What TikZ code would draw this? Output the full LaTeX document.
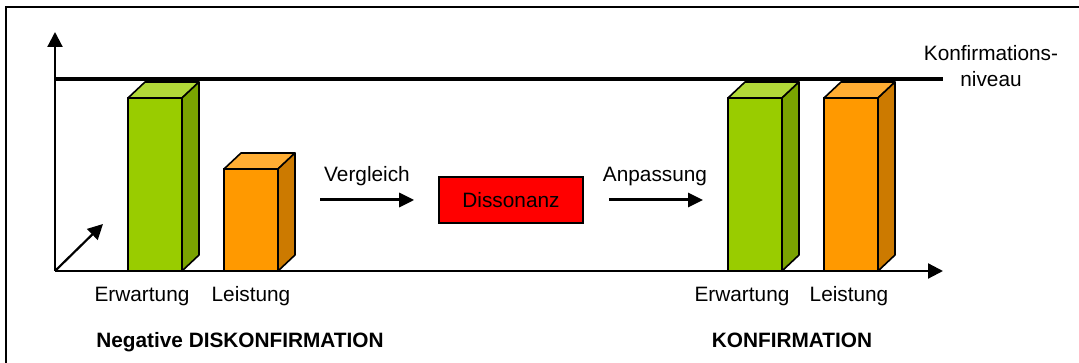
\documentclass[tikz,border=0pt]{standalone}
\usepackage{fontspec}
\setmainfont{Liberation Sans}
\usetikzlibrary{arrows.meta,positioning}

\definecolor{gruen}{HTML}{99CC00}
\definecolor{topgruen}{HTML}{B2D938}
\definecolor{sidegruen}{HTML}{7AA300}
\definecolor{orange}{HTML}{FF9900}
\definecolor{toporange}{HTML}{FFAD33}
\definecolor{sideorange}{HTML}{CC7A00}

% 3D bar: left x, top y, colour
\newcommand{\quader}[3]{%
  \draw[fill=top#3, line width=1.6pt, line join=round] (#1,#2) -- ++(17,-16) -- ++(54,0) -- ++(-17,16) -- cycle;
  \draw[fill=side#3, line width=1.6pt, line join=round] ({#1+54},#2) -- ++(17,-16) -- ({#1+71},255) -- ({#1+54},271) -- cycle;
  \draw[fill=#3, line width=1.6pt] (#1,#2) rectangle ({#1+54},271);
}

\tikzset{
  txt/.style={inner sep=0pt, font=\fontsize{20.8}{26}\selectfont},
  fett/.style={txt, font=\fontsize{20.8}{26}\selectfont\bfseries},
  pfeil/.style={-{Triangle[length=15pt,width=15pt]}, line width=2.2pt},
  schritt/.style={-{Triangle[length=15pt,width=14pt]}, line width=3pt}
}

\begin{document}
\begin{tikzpicture}[x=1pt, y=-1pt]
  \useasboundingbox (0,0) rectangle (1079,363);
  \clip (0,0) rectangle (1079,363);
  % frame
  \draw[line width=2pt] (1100,7) -- (6,7) -- (6,380);
  % axes
  \coordinate (O) at (55,271);
  \draw[line width=4pt] (55,79) -- (943,79) coordinate (niv);
  \draw[pfeil] (O) -- (55,32) coordinate (ytip);
  \draw[pfeil] (O) -- (943,271) coordinate (xtip);
  \draw[pfeil] (O) -- (103,224) coordinate (ztip);
  \node[txt, align=center] (kniv) at (991,66) {Konfirmations-\\niveau};
  % bars
  \foreach \x/\y/\c in {128/98/gruen, 224/169/orange, 728/98/gruen, 824/98/orange} {
    \quader{\x}{\y}{\c}
  }
  \node[txt, anchor=base] (erw1) at (142,302) {Erwartung};
  \node[txt, anchor=base] (lei1) at (251,302) {Leistung};
  \node[txt, anchor=base] (erw2) at (742,302) {Erwartung};
  \node[txt, anchor=base] (lei2) at (849,302) {Leistung};
  \node[fett, anchor=base] (neg) at (240,348) {Negative DISKONFIRMATION};
  \node[fett, anchor=base] (konf) at (792,348) {KONFIRMATION};
  % Dissonanz
  \node[txt, draw, line width=1.6pt, fill=red, minimum width=144pt, minimum height=46pt] (diss) at (511,200) {Dissonanz};
  \coordinate (v) at (320,200);
  \coordinate (a) at (703,200);
  \draw[schritt] (v) -- ([xshift=-24pt]diss.west) coordinate (v2);
  \draw[schritt] ([xshift=25pt]diss.east) coordinate (a1) -- (a);
  \node[txt, anchor=base] (vgl) at (367,182) {Vergleich};
  \node[txt, anchor=base] (anp) at (655,182) {Anpassung};
\end{tikzpicture}
\end{document}
